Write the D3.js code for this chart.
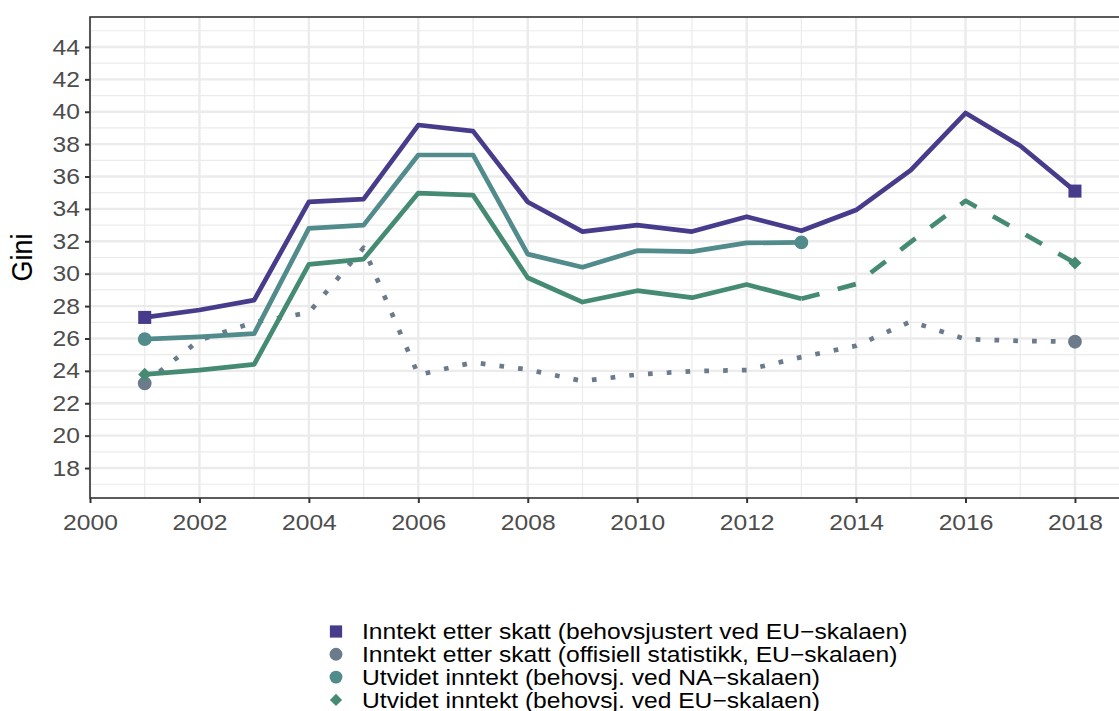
<!DOCTYPE html>
<html>
<head>
<meta charset="utf-8">
<script src="https://cdn.jsdelivr.net/npm/d3@7"></script>
<style>
  html, body { margin: 0; padding: 0; background: #fff; }
  svg { display: block; font-family: "Liberation Sans", Arial, Helvetica, sans-serif; }
</style>
</head>
<body>
<svg id="chart" width="1119" height="711"></svg>
<script>
// Years shown on the chart
const years = [2001, 2002, 2003, 2004, 2005, 2006, 2007, 2008, 2009, 2010,
               2011, 2012, 2013, 2014, 2015, 2016, 2017, 2018];

// Gini coefficients per series
const etterSkattEU = [27.3, 27.76, 28.37, 34.43, 34.6, 39.18, 38.8, 34.43, 32.6, 33.0,
                      32.6, 33.52, 32.65, 33.93, 36.4, 39.92, 37.9, 35.1];
const etterSkattOffisiell = [23.23, 25.9, 27.0, 27.6, 31.6, 23.75, 24.52, 24.08, 23.37, 23.77,
                             23.98, 24.05, 24.85, 25.55, 27.05, 25.96, 25.85, 25.8];
const utvidetNA = [25.96, 26.1, 26.3, 32.8, 33.0, 37.33, 37.33, 31.21, 30.4, 31.42,
                   31.36, 31.9, 31.93];
const utvidetEU = [23.78, 24.05, 24.4, 30.58, 30.9, 34.98, 34.85, 29.75, 28.25, 28.95,
                   28.52, 29.33, 28.45, 29.36, 31.96, 34.5, 32.6, 30.66];

const yTicks = [18, 20, 22, 24, 26, 28, 30, 32, 34, 36, 38, 40, 42, 44];
const xTicks = [2000, 2002, 2004, 2006, 2008, 2010, 2012, 2014, 2016, 2018];

const legendLabels = [
  "Inntekt etter skatt (behovsjustert ved EU\u2212skalaen)",
  "Inntekt etter skatt (offisiell statistikk, EU\u2212skalaen)",
  "Utvidet inntekt (behovsj. ved NA\u2212skalaen)",
  "Utvidet inntekt (behovsj. ved EU\u2212skalaen)"
];

const col = {
  purple: "#473C8B",
  grey: "#6C7B8B",
  teal: "#528B8B",
  green: "#458B74"
};

// Glyphs are drawn slightly wide
const stretch = 1.12;

const svg = d3.select("#chart");
const panel = { left: 90, top: 17, bottom: 498 };
const pxPerYear = 54.72;

const x = d3.scaleLinear().domain([2000, 2019]).range([panel.left, panel.left + 19 * pxPerYear]);
const y = d3.scaleLinear().domain([16.15, 45.85]).range([panel.bottom, panel.top]);
const right = x.range()[1];

// Grid
const grid = svg.append("g");
d3.range(17, 46, 2).forEach(v => {
  grid.append("line").attr("x1", panel.left).attr("x2", right)
    .attr("y1", y(v)).attr("y2", y(v))
    .attr("stroke", "#EBEBEB").attr("stroke-width", 1.2);
});
d3.range(2001, 2019, 2).forEach(v => {
  grid.append("line").attr("y1", panel.top).attr("y2", panel.bottom)
    .attr("x1", x(v)).attr("x2", x(v))
    .attr("stroke", "#EBEBEB").attr("stroke-width", 1.2);
});
yTicks.forEach(v => {
  grid.append("line").attr("x1", panel.left).attr("x2", right)
    .attr("y1", y(v)).attr("y2", y(v))
    .attr("stroke", "#EBEBEB").attr("stroke-width", 2.4);
});
xTicks.forEach(v => {
  grid.append("line").attr("y1", panel.top).attr("y2", panel.bottom)
    .attr("x1", x(v)).attr("x2", x(v))
    .attr("stroke", "#EBEBEB").attr("stroke-width", 2.4);
});

// Series lines
const lw = 4.7;
const line = d3.line().x(d => x(d[0])).y(d => y(d[1]));
const pairs = (vals) => vals.map((v, i) => [years[i], v]);

const plot = svg.append("g");
plot.append("path").datum(pairs(etterSkattOffisiell)).attr("d", line)
  .attr("fill", "none").attr("stroke", col.grey).attr("stroke-width", lw)
  .attr("stroke-dasharray", `${lw} ${lw * 3}`).attr("stroke-linejoin", "round");

const euPairs = pairs(utvidetEU);
plot.append("path").datum(euPairs.slice(0, 13)).attr("d", line)
  .attr("fill", "none").attr("stroke", col.green).attr("stroke-width", lw)
  .attr("stroke-linejoin", "round");
plot.append("path").datum(euPairs.slice(12)).attr("d", line)
  .attr("fill", "none").attr("stroke", col.green).attr("stroke-width", lw)
  .attr("stroke-dasharray", `${lw * 4} ${lw * 4}`).attr("stroke-linejoin", "round");

plot.append("path").datum(pairs(utvidetNA)).attr("d", line)
  .attr("fill", "none").attr("stroke", col.teal).attr("stroke-width", lw)
  .attr("stroke-linejoin", "round");

plot.append("path").datum(pairs(etterSkattEU)).attr("d", line)
  .attr("fill", "none").attr("stroke", col.purple).attr("stroke-width", lw)
  .attr("stroke-linejoin", "round");

// End-point markers
const sq = d3.symbol().type(d3.symbolSquare).size(170);
const ci = d3.symbol().type(d3.symbolCircle).size(150);
const di = d3.symbol().type(d3.symbolDiamond2).size(110);
function marker(sym, color, yr, v) {
  plot.append("path").attr("d", sym)
    .attr("transform", `translate(${x(yr)},${y(v)})`).attr("fill", color);
}
const last = (arr) => arr[arr.length - 1];
marker(ci, col.grey, years[0], etterSkattOffisiell[0]);
marker(ci, col.grey, years[etterSkattOffisiell.length - 1], last(etterSkattOffisiell));
marker(ci, col.teal, years[0], utvidetNA[0]);
marker(ci, col.teal, years[utvidetNA.length - 1], last(utvidetNA));
marker(di, col.green, years[0], utvidetEU[0]);
marker(di, col.green, years[utvidetEU.length - 1], last(utvidetEU));
marker(sq, col.purple, years[0], etterSkattEU[0]);
marker(sq, col.purple, years[etterSkattEU.length - 1], last(etterSkattEU));

// Panel border
svg.append("rect").attr("x", panel.left).attr("y", panel.top)
  .attr("width", right - panel.left).attr("height", panel.bottom - panel.top)
  .attr("fill", "none").attr("stroke", "#333333").attr("stroke-width", 1.6);

// Axes
const yAxis = d3.axisLeft(y).tickValues(yTicks).tickSize(5).tickPadding(5);
const gy = svg.append("g").attr("transform", `translate(${panel.left},0)`).call(yAxis);
const xAxis = d3.axisBottom(x).tickValues(xTicks).tickFormat(d3.format("d")).tickSize(5).tickPadding(11);
const gx = svg.append("g").attr("transform", `translate(0,${panel.bottom})`).call(xAxis);
[gy, gx].forEach(g => {
  g.select(".domain").remove();
  g.selectAll(".tick line").attr("stroke", "#333333").attr("stroke-width", 2);
  g.selectAll(".tick text").attr("fill", "#4D4D4D")
    .style("font-size", "22px").style("font-family", "'Liberation Sans', Arial, sans-serif");
});
gy.selectAll(".tick text").attr("x", -10 / stretch).attr("transform", `scale(${stretch},1)`);
gx.selectAll(".tick text").attr("transform", `scale(${stretch},1)`);

// Axis title
svg.append("text")
  .attr("transform", `translate(32,${(panel.top + panel.bottom) / 2}) scale(${stretch},1) rotate(-90)`)
  .attr("text-anchor", "middle").style("font-size", "27px").attr("fill", "#000")
  .text("Gini");

// Legend
const legendSyms = [
  { sym: d3.symbol().type(d3.symbolSquare).size(150), color: col.purple },
  { sym: d3.symbol().type(d3.symbolCircle).size(130), color: col.grey },
  { sym: d3.symbol().type(d3.symbolCircle).size(130), color: col.teal },
  { sym: d3.symbol().type(d3.symbolDiamond2).size(95), color: col.green }
];
const legend = svg.append("g");
legendLabels.forEach((lab, i) => {
  const cy = 631.5 + i * 22.8;
  legend.append("path").attr("d", legendSyms[i].sym)
    .attr("transform", `translate(336,${cy})`).attr("fill", legendSyms[i].color);
  legend.append("text").attr("transform", `translate(362,${cy}) scale(${stretch},1)`)
    .attr("dy", "0.35em")
    .style("font-size", "22px").attr("fill", "#000").text(lab);
});
</script>
</body>
</html>
